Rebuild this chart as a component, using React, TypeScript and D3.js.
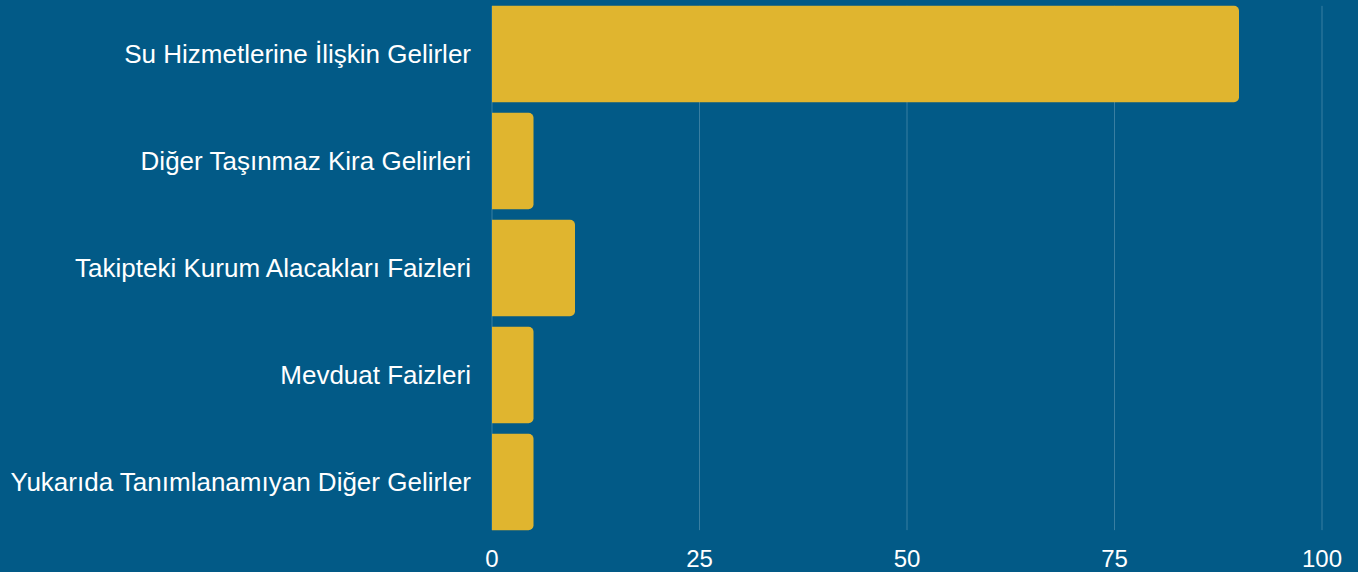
import React from "react";
import * as d3 from "d3";

const categories = [
  "Su Hizmetlerine İlişkin Gelirler",
  "Diğer Taşınmaz Kira Gelirleri",
  "Takipteki Kurum Alacakları Faizleri",
  "Mevduat Faizleri",
  "Yukarıda Tanımlanamıyan Diğer Gelirler",
];
const values = [90, 5, 10, 5, 5];
const ticks = [0, 25, 50, 75, 100];

const W = 1358;
const H = 572;
const BG = "#025a87";
const BAR = "#e0b52f";

export default function App() {
  const x = d3.scaleLinear().domain([0, 100]).range([492, 1322]);
  const y = d3
    .scaleBand<string>()
    .domain(categories)
    .range([0.5, 535.5])
    .paddingInner(0.1)
    .paddingOuter(0.05);
  const r = 5;
  const barPath = (v: number, c: string) => {
    const x0 = x(0);
    const x1 = x(v);
    const y0 = y(c)!;
    const h = y.bandwidth();
    const p = d3.path();
    p.moveTo(x0, y0);
    p.lineTo(x1 - r, y0);
    p.arcTo(x1, y0, x1, y0 + r, r);
    p.lineTo(x1, y0 + h - r);
    p.arcTo(x1, y0 + h, x1 - r, y0 + h, r);
    p.lineTo(x0, y0 + h);
    p.closePath();
    return p.toString();
  };
  const gridTop = y(categories[0])!;
  const gridBottom = y(categories[categories.length - 1])! + y.bandwidth();
  return (
    <div style={{ position: "fixed", left: 0, top: 0 }}>
      <svg width={W} height={H} style={{ display: "block" }} fontFamily="'Liberation Sans'">
        <rect x={0} y={0} width={W} height={H} fill={BG} />
        {ticks.map((t) => (
          <line
            key={"g" + t}
            x1={x(t)}
            x2={x(t)}
            y1={gridTop}
            y2={gridBottom}
            stroke="#ffffff"
            strokeOpacity={0.22}
            strokeWidth={1}
          />
        ))}
        {categories.map((c, i) => (
          <path key={c} d={barPath(values[i], c)} fill={BAR} />
        ))}
        {categories.map((c) => (
          <text
            key={"l" + c}
            x={471}
            y={y(c)! + y.bandwidth() / 2}
            textAnchor="end"
            dominantBaseline="central"
            fill="#ffffff"
            fontSize={26}
          >
            {c}
          </text>
        ))}
        {ticks.map((t) => (
          <text
            key={"t" + t}
            x={x(t)}
            y={558}
            textAnchor="middle"
            dominantBaseline="central"
            fill="#ffffff"
            fontSize={24}
          >
            {t}
          </text>
        ))}
      </svg>
    </div>
  );
}
